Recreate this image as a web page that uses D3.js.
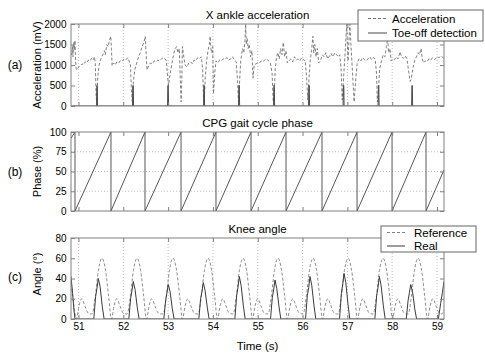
<!DOCTYPE html>
<html>
<head>
<meta charset="utf-8">
<script src="https://cdn.jsdelivr.net/npm/d3@7"></script>
<style>
  body { margin: 0; background: #fff; }
  text { font-family: "Liberation Sans", Arial, Helvetica, sans-serif; fill: #000; }
</style>
</head>
<body>
<div id="chart"></div>
<script>
// shared time axis (s)
const timeDomain = [50.833, 59.156];
const timeTicks = [51, 52, 53, 54, 55, 56, 57, 58, 59];

// (a) X ankle acceleration (mV)
const accTicks = [0, 500, 1000, 1500, 2000];
const acceleration = [
  [50.833,1300],[50.850,1250],[50.865,1450],[50.877,1200],[50.890,1550],[50.905,1350],[50.922,1600],[50.935,1100],
  [50.950,900],[50.967,880],[51.000,950],[51.040,980],[51.080,1030],[51.110,1000],[51.150,1080],[51.180,1050],
  [51.220,1120],[51.260,1100],[51.300,1180],[51.330,1130],[51.355,1200],[51.375,1050],[51.395,200],[51.410,100],
  [51.430,700],[51.460,1000],[51.500,1150],[51.540,1250],[51.580,1350],[51.600,1250],[51.630,1500],[51.660,1450],
  [51.690,1600],[51.720,1700],[51.735,1400],[51.750,980],[51.780,1050],[51.820,1000],[51.860,1080],[51.900,1050],
  [51.940,1120],[51.980,1100],[52.020,1150],[52.060,1130],[52.100,1180],[52.130,1100],[52.160,1000],[52.180,400],
  [52.200,100],[52.225,600],[52.260,900],[52.300,1050],[52.340,1200],[52.380,1300],[52.420,1450],[52.460,1550],
  [52.490,1700],[52.510,1250],[52.530,880],[52.570,1000],[52.610,1050],[52.650,1030],[52.690,1100],[52.730,1080],
  [52.770,1120],[52.810,1100],[52.850,1150],[52.890,1180],[52.930,1150],[52.960,1100],[52.990,700],[53.010,500],
  [53.040,750],[53.080,1000],[53.120,1250],[53.160,1400],[53.190,1450],[53.220,1300],[53.250,1400],[53.270,700],
  [53.290,100],[53.305,600],[53.320,1450],[53.350,1200],[53.380,1000],[53.420,950],[53.460,1050],[53.500,1080],
  [53.540,1030],[53.580,1120],[53.620,1100],[53.660,1180],[53.700,1150],[53.740,1200],[53.770,900],[53.790,200],
  [53.805,100],[53.830,700],[53.860,1100],[53.890,1350],[53.920,1500],[53.940,1700],[53.955,1400],[53.975,1300],
  [53.995,1450],[54.013,300],[54.040,800],[54.068,1100],[54.110,1050],[54.150,1120],[54.190,1100],[54.230,1150],
  [54.270,1130],[54.310,1180],[54.350,1120],[54.400,1150],[54.440,1200],[54.480,1120],[54.520,1080],[54.550,600],
  [54.570,100],[54.590,500],[54.620,1100],[54.660,1400],[54.690,1300],[54.715,1600],[54.730,2000],[54.745,1500],
  [54.765,1650],[54.785,1400],[54.810,1500],[54.840,1200],[54.870,1350],[54.895,680],[54.920,1000],[54.960,1030],
  [55.000,1060],[55.040,1050],[55.080,1100],[55.120,1080],[55.160,1130],[55.200,1150],[55.240,1100],[55.280,1060],
  [55.320,800],[55.345,100],[55.365,200],[55.390,900],[55.420,1200],[55.450,1300],[55.480,1150],[55.510,1400],
  [55.540,1250],[55.570,1550],[55.600,1200],[55.630,1350],[55.660,1050],[55.700,1100],[55.740,1150],[55.780,1080],
  [55.820,1200],[55.860,1120],[55.900,1150],[55.940,1100],[55.980,1180],[56.020,1130],[56.060,1100],[56.090,700],
  [56.115,150],[56.140,600],[56.170,1100],[56.200,1350],[56.230,1700],[56.250,1300],[56.275,1500],[56.300,1200],
  [56.330,1400],[56.360,1050],[56.400,1100],[56.440,1250],[56.480,1200],[56.520,1300],[56.560,1150],[56.600,1220],
  [56.640,1280],[56.680,1200],[56.720,1300],[56.760,1250],[56.800,1200],[56.830,1250],[56.860,900],[56.885,150],
  [56.910,600],[56.950,1300],[56.985,2000],[57.000,1500],[57.015,1100],[57.035,1600],[57.055,2000],[57.100,1100],
  [57.150,100],[57.190,700],[57.220,1050],[57.260,1150],[57.300,1100],[57.340,1180],[57.380,1130],[57.420,1100],
  [57.460,1150],[57.500,1200],[57.540,1130],[57.580,1180],[57.620,1150],[57.650,800],[57.670,100],[57.690,300],
  [57.720,900],[57.760,1100],[57.800,1250],[57.840,1200],[57.870,1450],[57.900,1650],[57.920,1300],[57.950,1400],
  [57.975,1100],[58.010,1150],[58.050,1130],[58.090,1200],[58.130,1150],[58.175,1320],[58.210,1200],[58.250,1160],
  [58.290,1220],[58.330,1150],[58.360,900],[58.400,600],[58.425,650],[58.460,900],[58.500,1100],[58.540,1200],
  [58.580,1300],[58.610,1250],[58.645,1400],[58.670,1150],[58.700,1050],[58.740,1100],[58.780,1080],[58.820,1150],
  [58.860,1120],[58.900,1180],[58.950,1130],[59.000,1200],[59.050,1180],[59.100,1220],[59.156,1150]
];
const toeOffTimes = [51.413, 52.216, 52.997, 53.801, 54.582, 55.363, 56.144, 56.914, 57.695, 58.443];
const toeOffLevel = 500;

// (b) CPG gait cycle phase (%)
const phaseTicks = [0, 25, 50, 75, 100];
const phaseResets = [50.922, 51.725, 52.484, 53.288, 54.068, 54.850, 55.631, 56.434, 57.216, 57.997, 58.755];
const phaseAtStart = 92;
const phaseAtEnd = 52;

// (c) knee angle (deg)
const angleTicks = [0, 20, 40, 60, 80];
const kneeReference = [
  [50.833,35],[50.892,15],[50.952,0],[51.012,13],[51.072,20],[51.142,13],[51.212,6],[51.272,5],
  [51.304,5],[51.374,22],[51.444,48],[51.524,60],[51.604,48],[51.674,22],[51.734,0],[51.794,13],[51.854,20],[51.924,13],[51.994,6],[52.054,5],
  [52.086,5],[52.156,22],[52.226,48],[52.306,60],[52.386,48],[52.456,22],[52.516,0],[52.576,13],[52.636,20],[52.706,13],[52.776,6],[52.836,5],
  [52.889,5],[52.959,22],[53.029,48],[53.109,60],[53.189,48],[53.259,22],[53.319,0],[53.379,13],[53.439,20],[53.509,13],[53.579,6],[53.639,5],
  [53.670,5],[53.740,22],[53.810,48],[53.890,60],[53.970,48],[54.040,22],[54.100,0],[54.160,13],[54.220,20],[54.290,13],[54.360,6],[54.420,5],
  [54.451,5],[54.521,22],[54.591,48],[54.671,60],[54.751,48],[54.821,22],[54.881,0],[54.941,13],[55.001,20],[55.071,13],[55.141,6],[55.201,5],
  [55.232,5],[55.302,22],[55.372,48],[55.452,60],[55.532,48],[55.602,22],[55.662,0],[55.722,13],[55.782,20],[55.852,13],[55.922,6],[55.982,5],
  [56.013,5],[56.083,22],[56.153,48],[56.233,60],[56.313,48],[56.383,22],[56.443,0],[56.503,13],[56.563,20],[56.633,13],[56.703,6],[56.763,5],
  [56.795,5],[56.865,22],[56.935,48],[57.015,60],[57.095,48],[57.165,22],[57.225,0],[57.285,13],[57.345,20],[57.415,13],[57.485,6],[57.545,5],
  [57.576,5],[57.646,22],[57.716,48],[57.796,60],[57.876,48],[57.946,22],[58.006,0],[58.066,13],[58.126,20],[58.196,13],[58.266,6],[58.326,5],
  [58.357,5],[58.427,22],[58.497,48],[58.577,60],[58.657,48],[58.727,22],[58.787,0],[58.847,13],[58.907,20],[58.977,13],[59.047,6],[59.107,5],
  [59.156,9]
];
const kneeReal = [
  [50.833,42],[50.870,25],[50.900,8],[50.922,0],
  [51.342,0],[51.382,22],[51.412,30],[51.442,40],[51.482,32],[51.532,12],[51.572,0],
  [52.123,0],[52.163,20],[52.193,28],[52.223,37],[52.263,29],[52.313,11],[52.353,0],
  [52.904,0],[52.944,18],[52.974,26],[53.004,34],[53.044,27],[53.094,10],[53.134,0],
  [53.685,0],[53.725,20],[53.755,27],[53.785,36],[53.825,28],[53.875,11],[53.915,0],
  [54.489,0],[54.529,23],[54.559,31],[54.589,42],[54.629,33],[54.679,13],[54.719,0],
  [55.285,0],[55.325,21],[55.355,29],[55.385,38.5],[55.425,30],[55.475,12],[55.515,0],
  [56.066,0],[56.106,23],[56.136,31],[56.166,42],[56.206,33],[56.256,13],[56.296,0],
  [56.825,0],[56.865,25],[56.895,34],[56.925,45],[56.965,36],[57.015,14],[57.055,0],
  [57.613,0],[57.653,23],[57.683,31],[57.713,42],[57.753,33],[57.803,13],[57.843,0],
  [58.314,0],[58.354,18],[58.384,26],[58.414,34],[58.454,27],[58.504,10],[58.544,0],
  [59.030,0],[59.080,15],[59.120,26],[59.156,37]
];

const width = 485, height = 353;
const plotLeft = 71, plotRight = 444;
const boxColor = "#808080";
const gridColor = "#b0b0b0";

const svg = d3.select("#chart").append("svg")
  .attr("width", width)
  .attr("height", height);

svg.append("rect").attr("width", width).attr("height", height).attr("fill", "#fff");

const x = d3.scaleLinear().domain(timeDomain).range([plotLeft, plotRight]);

// draws box, ticks, grid, titles for one panel and returns its group + y scale
function makePanel(id, top, bottom, yDomain, yTicks, opts) {
  const y = d3.scaleLinear().domain(yDomain).range([bottom, top]);
  const g = svg.append("g");

  g.append("clipPath").attr("id", "clip-" + id)
    .append("rect")
    .attr("x", plotLeft).attr("y", top)
    .attr("width", plotRight - plotLeft).attr("height", bottom - top);

  // grid
  if (opts.vgrid) {
    g.selectAll(".vg").data(timeTicks).enter().append("line")
      .attr("x1", d => x(d)).attr("x2", d => x(d))
      .attr("y1", top).attr("y2", bottom)
      .attr("stroke", gridColor).attr("stroke-width", 0.8)
      .attr("stroke-dasharray", "1,2");
  }
  if (opts.hgrid) {
    g.selectAll(".hg").data(yTicks.slice(1, -1)).enter().append("line")
      .attr("x1", plotLeft).attr("x2", plotRight)
      .attr("y1", d => y(d)).attr("y2", d => y(d))
      .attr("stroke", gridColor).attr("stroke-width", 0.8)
      .attr("stroke-dasharray", "1,2");
  }

  const data = g.append("g").attr("clip-path", `url(#clip-${id})`);

  // axes, MATLAB style: ticks pointing in, on all four sides
  g.append("g")
    .attr("transform", `translate(0,${bottom})`)
    .call(d3.axisBottom(x).tickValues(timeTicks).tickSizeInner(-4).tickSizeOuter(0).tickPadding(4)
      .tickFormat(opts.xLabels ? d3.format("d") : ""));
  g.append("g")
    .attr("transform", `translate(0,${top})`)
    .call(d3.axisTop(x).tickValues(timeTicks).tickSizeInner(-4).tickSizeOuter(0).tickFormat(""));
  g.append("g")
    .attr("transform", `translate(${plotLeft},0)`)
    .call(d3.axisLeft(y).tickValues(yTicks).tickSizeInner(-4).tickSizeOuter(0).tickPadding(4.5)
      .tickFormat(d3.format("d")));
  g.append("g")
    .attr("transform", `translate(${plotRight},0)`)
    .call(d3.axisRight(y).tickValues(yTicks).tickSizeInner(-4).tickSizeOuter(0).tickFormat(""));

  g.selectAll(".domain").remove();
  g.selectAll(".tick line").attr("stroke", boxColor);
  g.selectAll(".tick text").attr("font-size", "10px").attr("fill", "#000")
    .style("font-family", '"Liberation Sans", Arial, sans-serif');

  g.append("rect")
    .attr("x", plotLeft).attr("y", top)
    .attr("width", plotRight - plotLeft).attr("height", bottom - top)
    .attr("fill", "none").attr("stroke", boxColor).attr("stroke-width", 1);

  g.append("text")
    .attr("x", (plotLeft + plotRight) / 2).attr("y", top - 5.5)
    .attr("text-anchor", "middle").attr("font-size", "11.5px")
    .text(opts.title);

  g.append("text")
    .attr("transform", `translate(40.5,${opts.yLabelY}) rotate(-90)`)
    .attr("text-anchor", "middle").attr("font-size", "11px")
    .text(opts.yLabel);

  g.append("text")
    .attr("x", 15).attr("y", opts.letterY)
    .attr("text-anchor", "middle").attr("font-size", "12px")
    .text(opts.letter);

  return { g, data, y };
}

function addLegend(bx, by, bw, bh, items) {
  const lg = svg.append("g");
  lg.append("rect")
    .attr("x", bx).attr("y", by).attr("width", bw).attr("height", bh)
    .attr("fill", "#fff").attr("stroke", "#666").attr("stroke-width", 1);
  items.forEach(it => {
    const yy = by + it.dy;
    lg.append("line")
      .attr("x1", bx + it.x0).attr("x2", bx + it.x1)
      .attr("y1", yy).attr("y2", yy)
      .attr("stroke", it.color).attr("stroke-width", 1)
      .attr("stroke-dasharray", it.dash || null);
    lg.append("text")
      .attr("x", bx + it.tx).attr("y", yy + 4.2)
      .attr("font-size", "11.5px")
      .text(it.label);
  });
}

// ---- (a)
const pa = makePanel("a", 24, 106, [0, 2000], accTicks, {
  vgrid: true, title: "X ankle acceleration", yLabel: "Acceleration (mV)",
  yLabelY: 65, letter: "(a)", letterY: 69
});
const lineA = d3.line().x(d => x(d[0])).y(d => pa.y(d[1]));
pa.data.append("path").datum(acceleration)
  .attr("d", lineA).attr("fill", "none")
  .attr("stroke", "#707070").attr("stroke-width", 0.9).attr("stroke-dasharray", "3,2");

const toeOffLine = [[timeDomain[0], 0]];
toeOffTimes.forEach(t => {
  toeOffLine.push([t - 0.01, 0], [t - 0.003, toeOffLevel], [t + 0.006, toeOffLevel], [t + 0.013, 0]);
});
toeOffLine.push([timeDomain[1], 0]);
pa.data.append("path").datum(toeOffLine)
  .attr("d", lineA).attr("fill", "none")
  .attr("stroke", "#4a4a4a").attr("stroke-width", 1);

// ---- (b)
const pb = makePanel("b", 132, 211, [0, 100], phaseTicks, {
  hgrid: true, title: "CPG gait cycle phase", yLabel: "Phase (%)",
  yLabelY: 171.5, letter: "(b)", letterY: 176
});
const phaseLine = [[timeDomain[0], phaseAtStart]];
phaseResets.forEach(t => { phaseLine.push([t, 100], [t, 0]); });
phaseLine.push([timeDomain[1], phaseAtEnd]);
pb.data.append("path").datum(phaseLine)
  .attr("d", d3.line().x(d => x(d[0])).y(d => pb.y(d[1])))
  .attr("fill", "none").attr("stroke", "#444").attr("stroke-width", 0.9);

// ---- (c)
const pc = makePanel("c", 238, 319, [0, 80], angleTicks, {
  vgrid: true, xLabels: true, title: "Knee angle", yLabel: "Angle (°)",
  yLabelY: 274, letter: "(c)", letterY: 281
});
pc.data.append("path").datum(kneeReference)
  .attr("d", d3.line().curve(d3.curveMonotoneX).x(d => x(d[0])).y(d => pc.y(d[1])))
  .attr("fill", "none").attr("stroke", "#808080").attr("stroke-width", 0.9)
  .attr("stroke-dasharray", "3,2");
pc.data.append("path").datum(kneeReal)
  .attr("d", d3.line().x(d => x(d[0])).y(d => pc.y(d[1])))
  .attr("fill", "none").attr("stroke", "#3a3a3a").attr("stroke-width", 1);

svg.append("text")
  .attr("x", (plotLeft + plotRight) / 2).attr("y", 350)
  .attr("text-anchor", "middle").attr("font-size", "11.5px")
  .text("Time (s)");

// legends drawn last, on top of the data
addLegend(358, 10, 125, 31, [
  { label: "Acceleration", color: "#707070", dash: "3,2", dy: 8.5, x0: 10, x1: 29, tx: 34 },
  { label: "Toe-off detection", color: "#4a4a4a", dy: 23, x0: 10, x1: 29, tx: 34 }
]);
addLegend(381, 226, 95, 26, [
  { label: "Reference", color: "#808080", dash: "3,2", dy: 6.5, x0: 6, x1: 24, tx: 33 },
  { label: "Real", color: "#3a3a3a", dy: 20, x0: 6, x1: 24, tx: 33 }
]);
</script>
</body>
</html>
